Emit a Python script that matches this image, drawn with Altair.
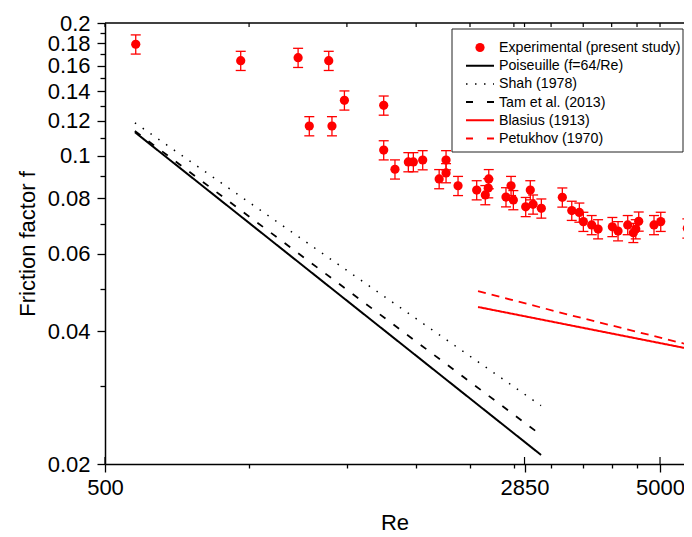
import json
import altair as alt
import pandas as pd

# ---------------- data ----------------
re_exp = [568, 878, 1114, 1167, 1265, 1282, 1350, 1589, 1589, 1665,
          1760, 1797, 1868, 2000, 2058, 2058, 2163, 2337, 2422, 2452,
          2457, 2639, 2695, 2721, 2864, 2919, 2953, 3056, 3334, 3467,
          3578, 3638, 3766, 3867, 4103, 4201, 4373, 4476, 4521, 4577,
          4877, 5015, 5600]
f_exp = [0.1790, 0.1643, 0.1669, 0.1168, 0.1643, 0.1168, 0.1336, 0.1301, 0.1030, 0.0932,
         0.0968, 0.0968, 0.0978, 0.0886, 0.0978, 0.0914, 0.0855, 0.0836, 0.0815, 0.0845,
         0.0886, 0.0806, 0.0855, 0.0794, 0.0766, 0.0836, 0.0776, 0.0760, 0.0805, 0.0751,
         0.0744, 0.0709, 0.0697, 0.0682, 0.0690, 0.0675, 0.0697, 0.0669, 0.0682, 0.0710,
         0.0697, 0.0709, 0.0685]
err_rel = 0.05  # relative error bar half-height

poiseuille_re = [566, 3052]
poiseuille_f = [0.1131, 0.02097]
shah_re = [566, 3052]
shah_f = [0.1188, 0.02712]
tam_re = [566, 3052]
tam_f = [0.1138, 0.02327]
blasius_re = [2350, 5570]
blasius_f = [0.0454, 0.0366]
petukhov_re = [2350, 3500, 5570]
petukhov_f = [0.0493, 0.0433, 0.0374]

series_names = ["Experimental (present study)", "Poiseuille (f=64/Re)", "Shah (1978)",
                "Tam et al. (2013)", "Blasius (1913)", "Petukhov (1970)"]

x_major = [500, 2850, 5000]
x_minor = [909, 1364, 1818, 2273, 2727, 3182, 3636, 4091, 4545]
y_major = [0.02, 0.04, 0.06, 0.08, 0.1, 0.12, 0.14, 0.16, 0.18, 0.2]
y_minor = [0.03, 0.05, 0.07, 0.09, 0.11, 0.13, 0.15, 0.17, 0.19]

# ---------------- tables ----------------
exp_df = pd.DataFrame({"Re": re_exp, "f": f_exp})
exp_df["lo"] = exp_df["f"] * (1 - err_rel)
exp_df["hi"] = exp_df["f"] * (1 + err_rel)

def line_df(name, xs, ys):
    return pd.DataFrame({"series": name, "Re": xs, "f": ys})

W, H = 579, 441
FONT = "Liberation Sans, Arial, sans-serif"
RED = "#ff0000"

xscale = alt.Scale(type="log", domain=[500, 5523], nice=False)
yscale = alt.Scale(type="log", domain=[0.02, 0.2], nice=False)

x_test = "indexof(%s, datum.value) >= 0" % json.dumps(x_major)
y_test = "round(datum.value * 100) % 2 == 0"

xaxis = alt.Axis(
    values=sorted(x_major + x_minor), format="d",
    labelExpr=f"{x_test} ? datum.label : ''",
    tickSize={"condition": {"test": x_test, "value": 8}, "value": 4},
    labelFlush=False, labelOverlap=False, labelBound=False,
    grid=False, title="Re", labelPadding=5, titlePadding=14,
)
yaxis = alt.Axis(
    values=sorted(y_major + y_minor), format=".2~f",
    labelExpr=f"{y_test} ? datum.label : ''",
    tickSize={"condition": {"test": y_test, "value": 8}, "value": 5},
    labelOverlap=False, labelBound=False, labelFlush=False,
    grid=False, title="Friction factor f", labelPadding=7, titlePadding=8,
)

X = alt.X("Re:Q", scale=xscale, axis=xaxis)
Xn = alt.X("Re:Q", scale=xscale)

# error bars
err_rule = alt.Chart(exp_df).mark_rule(color=RED, strokeWidth=1.3).encode(
    x=X, y=alt.Y("lo:Q", scale=yscale, axis=yaxis), y2="hi:Q")
cap_lo = alt.Chart(exp_df).mark_tick(orient="horizontal", color=RED, size=10, thickness=1.3, opacity=1).encode(
    x=Xn, y=alt.Y("lo:Q", scale=yscale))
cap_hi = alt.Chart(exp_df).mark_tick(orient="horizontal", color=RED, size=10, thickness=1.3, opacity=1).encode(
    x=Xn, y=alt.Y("hi:Q", scale=yscale))
pts = alt.Chart(exp_df).mark_circle(color=RED, size=85, opacity=1).encode(
    x=Xn, y=alt.Y("f:Q", scale=yscale))

line_specs = [
    (series_names[1], poiseuille_re, poiseuille_f, "black", [1, 0], 2.0),
    (series_names[2], shah_re, shah_f, "black", [1.5, 8], 1.5),
    (series_names[3], tam_re, tam_f, "black", [7, 10], 1.8),
    (series_names[4], blasius_re, blasius_f, RED, [1, 0], 2.0),
    (series_names[5], petukhov_re, petukhov_f, RED, [8, 6], 1.8),
]
line_layers = []
for name, xs, ys, col, dash, sw in line_specs:
    line_layers.append(
        alt.Chart(line_df(name, xs, ys)).mark_line(color=col, strokeDash=dash, strokeWidth=sw).encode(
            x=Xn, y=alt.Y("f:Q", scale=yscale)))

# top frame line and inward ticks
top_line = alt.Chart(pd.DataFrame({"a": [0]})).mark_rule(color="black", strokeWidth=1.5).encode(
    x=alt.value(0), x2=alt.value(W), y=alt.value(0))
top_ticks = alt.Chart(pd.DataFrame({"Re": x_minor + x_major})).mark_rule(color="black", strokeWidth=1.2).encode(
    x=Xn, y=alt.value(0), y2=alt.value(4))
bot_in_ticks = alt.Chart(pd.DataFrame({"Re": x_major})).mark_rule(color="black", strokeWidth=1.2).encode(
    x=Xn, y=alt.value(H - 7), y2=alt.value(H))

# ---------------- legend (layout in pixels of the plot area) ----------------
LX0, LX1, LY0, LY1 = 347, 578, 6, 129
ROW0, ROWSTEP = 24.5, 18.2
SYM0, SYM1, LABX = 361, 389, 394
legend_styles = [
    ("point", RED, [1, 0], 0),
    ("line", "black", [1, 0], 2.0),
    ("line", "black", [1.5, 7.5], 1.5),
    ("line", "black", [7, 14], 2.0),
    ("line", RED, [1, 0], 2.0),
    ("line", RED, [7, 14], 2.0),
]
one = pd.DataFrame({"a": [0]})
legend_layers = [
    alt.Chart(one).mark_rect(fill="white", stroke="#222", strokeWidth=1).encode(
        x=alt.value(LX0), x2=alt.value(LX1), y=alt.value(LY0), y2=alt.value(LY1))
]
for i, (name, (kind, col, dash, sw)) in enumerate(zip(series_names, legend_styles)):
    yy = ROW0 + ROWSTEP * i
    if kind == "point":
        legend_layers.append(alt.Chart(one).mark_circle(color=RED, size=85, opacity=1).encode(
            x=alt.value((SYM0 + SYM1) / 2), y=alt.value(yy)))
    else:
        legend_layers.append(alt.Chart(one).mark_rule(color=col, strokeDash=dash, strokeWidth=sw).encode(
            x=alt.value(SYM0), x2=alt.value(SYM1), y=alt.value(yy)))
    legend_layers.append(alt.Chart(pd.DataFrame({"label": [name]})).mark_text(
        align="left", baseline="middle", font=FONT, fontSize=14.2, color="black").encode(
        text="label:N", x=alt.value(LABX), y=alt.value(yy + 0.5)))

chart = alt.layer(
    err_rule, cap_lo, cap_hi, pts, *line_layers, top_line, top_ticks, bot_in_ticks, *legend_layers
).properties(
    width=W, height=H,
    autosize=alt.AutoSizeParams(type="none"),
    padding={"left": 97, "top": 15, "right": 0, "bottom": 72},
).configure_view(stroke="transparent").configure_axis(
    labelFont=FONT, titleFont=FONT, labelFontSize=22, titleFontSize=22,
    titleFontWeight="normal", labelColor="black", titleColor="black",
    domainColor="black", domainWidth=1.5, tickColor="black", tickWidth=1.3,
)

chart.save("out.html", embed_options={"renderer": "svg", "actions": False})
